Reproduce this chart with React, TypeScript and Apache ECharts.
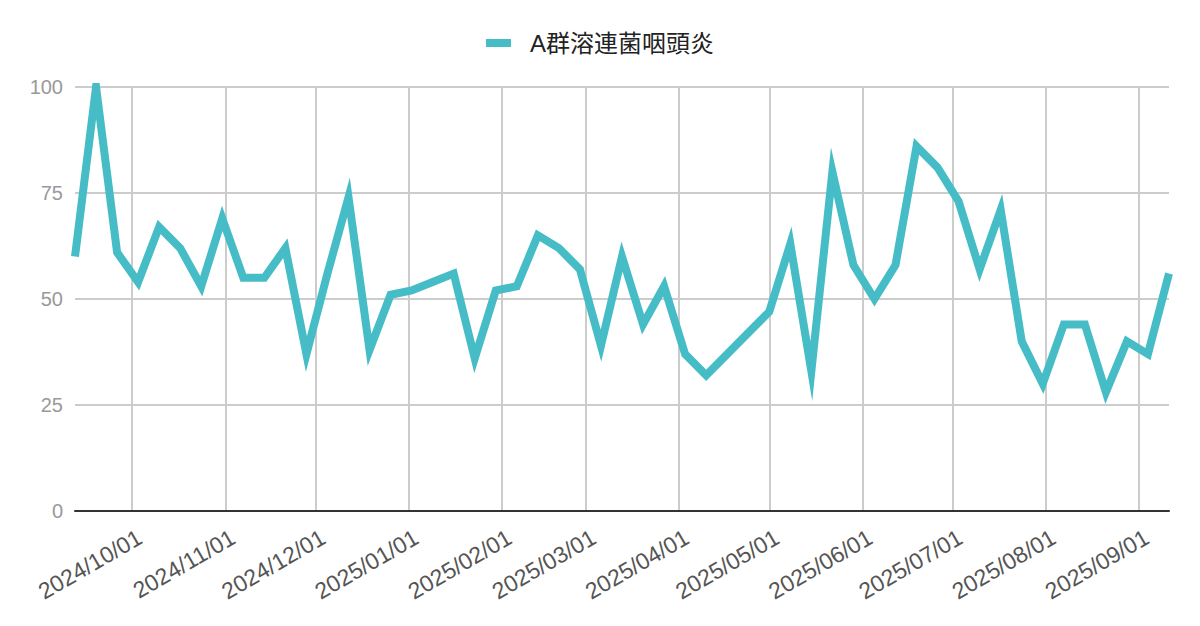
import React, { useEffect, useRef } from "react";
import * as echarts from "echarts";

const seriesName = "A群溶連菌咽頭炎";

const weekDates = [
  "2024-09-12", "2024-09-19", "2024-09-26", "2024-10-03", "2024-10-10", "2024-10-17",
  "2024-10-24", "2024-10-31", "2024-11-07", "2024-11-14", "2024-11-21", "2024-11-28",
  "2024-12-05", "2024-12-12", "2024-12-19", "2024-12-26", "2025-01-02", "2025-01-09",
  "2025-01-16", "2025-01-23", "2025-01-30", "2025-02-06", "2025-02-13", "2025-02-20",
  "2025-02-27", "2025-03-06", "2025-03-13", "2025-03-20", "2025-03-27", "2025-04-03",
  "2025-04-10", "2025-04-17", "2025-04-24", "2025-05-01", "2025-05-08", "2025-05-15",
  "2025-05-22", "2025-05-29", "2025-06-05", "2025-06-12", "2025-06-19", "2025-06-26",
  "2025-07-03", "2025-07-10", "2025-07-17", "2025-07-24", "2025-07-31", "2025-08-07",
  "2025-08-14", "2025-08-21", "2025-08-28", "2025-09-04", "2025-09-11",
];

const searchValues = [
  60, 100, 61, 54, 67, 62, 53, 69, 55, 55,
  62, 37, 56, 74, 38, 51, 52, 54, 56, 36,
  52, 53, 65, 62, 57, 39, 60, 44, 53, 37,
  32, 37, 42, 47, 63, 33, 80, 58, 50, 58,
  86, 81, 73, 57, 71, 40, 30, 44, 44, 28,
  40, 37, 56,
];

const yMin = 0;
const yMax = 100;
const yInterval = 25;

const FONT = '"Liberation Sans", Arial, "Noto Sans CJK JP", sans-serif';
const DAY = 86400000;

const toUTC = (s: string) => {
  const [y, m, d] = s.split("-").map(Number);
  return Date.UTC(y, m - 1, d);
};
const pad = (n: number) => String(n).padStart(2, "0");

export default function App() {
  const ref = useRef<HTMLDivElement>(null);

  useEffect(() => {
    if (!ref.current) return;
    const chart = echarts.init(ref.current, null, { renderer: "svg" });
    const data = weekDates.map((d, i) => [toUTC(d), searchValues[i]]);

    chart.setOption({
      animation: false,
      useUTC: true,
      backgroundColor: "#ffffff",
      textStyle: { fontFamily: FONT },
      legend: {
        data: [seriesName],
        top: 31,
        left: "center",
        padding: 0,
        icon: "rect",
        itemWidth: 25,
        itemHeight: 8,
        textStyle: {
          fontSize: 24,
          color: "#222222",
          fontFamily: FONT,
          padding: [0, 0, 0, 14],
        },
      },
      grid: { left: 75, right: 31, top: 87, bottom: 115, containLabel: false },
      xAxis: {
        type: "time",
        min: toUTC(weekDates[0]),
        max: toUTC(weekDates[weekDates.length - 1]),
        splitNumber: 12,
        minInterval: 28 * DAY,
        maxInterval: 31 * DAY,
        axisLine: { show: true, onZero: true, lineStyle: { color: "#333333", width: 2 } },
        axisTick: { show: false },
        axisLabel: {
          rotate: 30,
          margin: 29,
          padding: [0, -9, 0, 0],
          fontSize: 23,
          color: "#555555",
          fontFamily: FONT,
          interval: 0,
          hideOverlap: false,
          showMinLabel: false,
          showMaxLabel: false,
          formatter: (val: number) => {
            const d = new Date(val);
            return `${d.getUTCFullYear()}/${pad(d.getUTCMonth() + 1)}/${pad(d.getUTCDate())}`;
          },
        },
        splitLine: {
          show: true,
          showMinLine: false,
          showMaxLine: false,
          lineStyle: { color: "#cccccc", width: 2 },
        },
      },
      yAxis: {
        type: "value",
        min: yMin,
        max: yMax,
        interval: yInterval,
        axisLine: { show: false },
        axisTick: { show: false },
        axisLabel: { fontSize: 20, color: "#999999", margin: 12, fontFamily: FONT },
        splitLine: { show: true, lineStyle: { color: "#cccccc", width: 2 } },
      },
      series: [
        {
          type: "line",
          name: seriesName,
          data,
          showSymbol: false,
          symbol: "none",
          clip: true,
          color: "#46bdc6",
          itemStyle: { color: "#46bdc6" },
          lineStyle: { color: "#46bdc6", width: 8, join: "miter", miterLimit: 20, cap: "butt" },
        },
      ],
    });

    return () => chart.dispose();
  }, []);

  return (
    <div
      ref={ref}
      style={{ position: "fixed", left: 0, top: 0, width: 1200, height: 626, background: "#fff" }}
    />
  );
}
